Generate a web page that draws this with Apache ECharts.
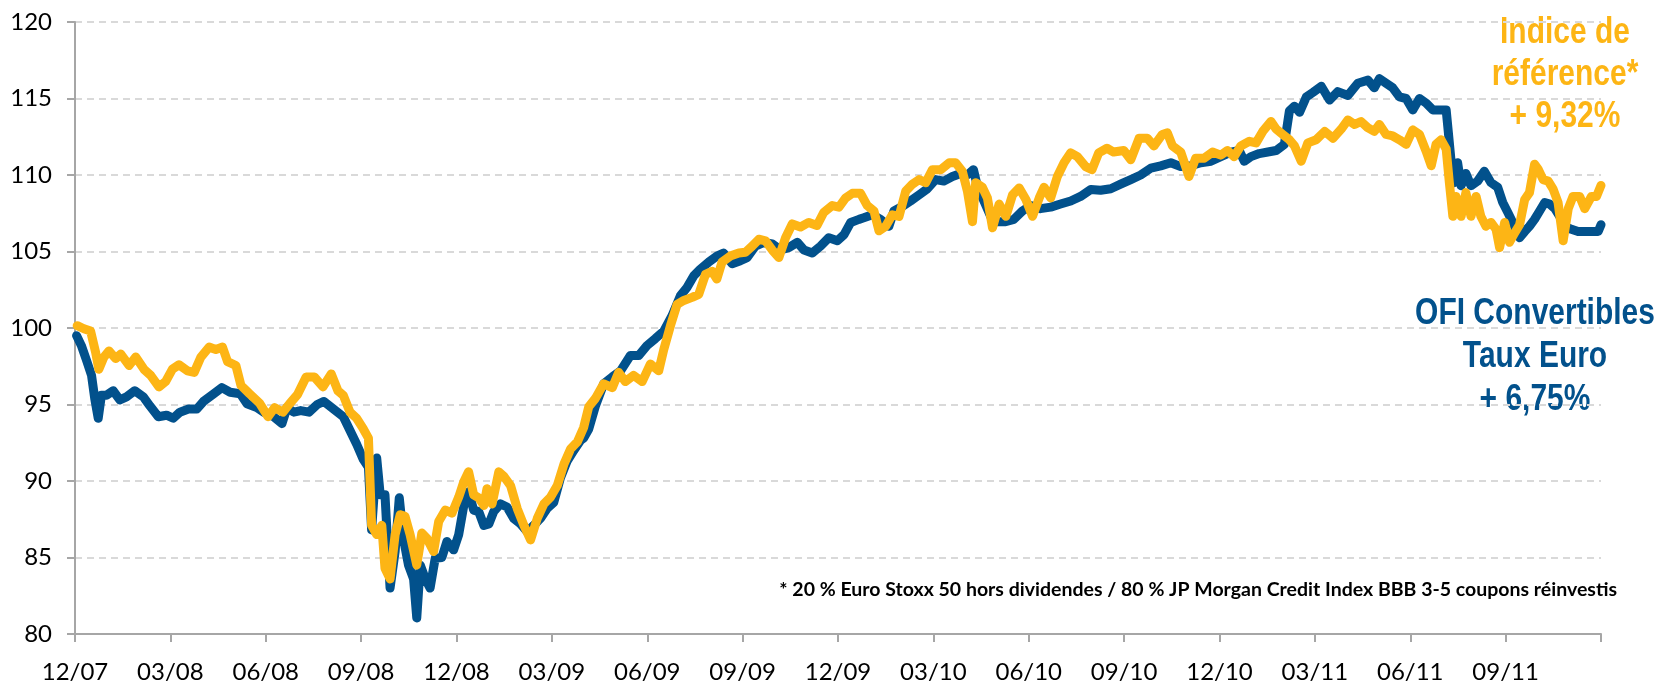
<!DOCTYPE html>
<html>
<head>
<meta charset="utf-8">
<script src="https://cdn.jsdelivr.net/npm/echarts@6/dist/echarts.min.js"></script>
<style>
  html, body { margin: 0; padding: 0; background: #fff; }
  #chart { width: 1662px; height: 684px; }
</style>
</head>
<body>
<div id="chart"></div>
<script>
// x positions are months since end of 12/07
const xTickLabels = ['12/07', '03/08', '06/08', '09/08', '12/08', '03/09', '06/09', '09/09', '12/09',
  '03/10', '06/10', '09/10', '12/10', '03/11', '06/11', '09/11', '']

// OFI Convertibles Taux Euro
const ofiMonths = [0.05, 0.2, 0.36, 0.52, 0.62, 0.73, 0.83, 0.99, 1.2, 1.41, 1.62, 1.88, 2.15, 2.36, 2.62, 2.88,
  3.09, 3.3, 3.57, 3.83, 4.04, 4.36, 4.62, 4.88, 5.2, 5.41, 5.72, 5.93, 6.25, 6.51, 6.67, 6.88, 7.1, 7.36, 7.62,
  7.83, 8.13, 8.44, 8.65, 8.86, 9.07, 9.23, 9.33, 9.49, 9.6, 9.75, 9.91, 10.07, 10.2, 10.33, 10.49, 10.65, 10.75,
  10.86, 11.02, 11.17, 11.33, 11.54, 11.7, 11.91, 12.07, 12.23, 12.38, 12.54, 12.7, 12.86, 13.02, 13.17, 13.38,
  13.59, 13.8, 14.01, 14.22, 14.43, 14.64, 14.85, 15.06, 15.27, 15.48, 15.69, 15.9, 16.0, 16.16, 16.37, 16.63,
  16.9, 17.16, 17.47, 17.73, 17.99, 18.25, 18.52, 18.78, 19.04, 19.25, 19.46, 19.67, 19.93, 20.19, 20.4, 20.67,
  20.93, 21.14, 21.4, 21.67, 21.93, 22.19, 22.45, 22.72, 22.93, 23.19, 23.45, 23.71, 23.98, 24.19, 24.4, 24.66,
  24.81, 25.08, 25.34, 25.6, 25.76, 26.02, 26.28, 26.55, 26.81, 27.07, 27.33, 27.6, 27.86, 28.07, 28.26, 28.38,
  28.59, 28.8, 29.01, 29.27, 29.53, 29.8, 30.06, 30.37, 30.69, 31.0, 31.32, 31.63, 31.95, 32.26, 32.58, 32.89,
  33.21, 33.52, 33.84, 34.15, 34.47, 34.78, 35.1, 35.41, 35.73, 36.04, 36.36, 36.62, 36.78, 36.99, 37.25, 37.52,
  37.78, 38.04, 38.2, 38.36, 38.52, 38.73, 38.94, 39.2, 39.46, 39.72, 40.04, 40.35, 40.67, 40.87, 41.03, 41.24,
  41.45, 41.66, 41.87, 42.08, 42.29, 42.5, 42.71, 42.92, 43.13, 43.2, 43.28, 43.39, 43.49, 43.6, 43.75, 43.91,
  44.12, 44.33, 44.54, 44.75, 44.91, 45.07, 45.28, 45.44, 45.6, 45.75, 45.91, 46.07, 46.23, 46.39, 46.55, 46.7,
  46.86, 47.07, 47.28, 47.49, 47.7, 47.91, 48.0]
const ofiValues = [99.5, 98.85, 97.9, 96.9, 95.4, 94.1, 95.6, 95.6, 95.9, 95.3, 95.5, 95.9, 95.5, 94.9, 94.2, 94.3,
  94.1, 94.5, 94.7, 94.7, 95.2, 95.7, 96.1, 95.8, 95.7, 95.05, 94.8, 94.5, 94.2, 93.75, 94.8, 94.5, 94.6, 94.5, 95.0,
  95.2, 94.7, 94.2, 93.3, 92.4, 91.4, 90.9, 86.8, 91.5, 89.1, 89.1, 83.0, 85.4, 88.9, 86.25, 84.5, 83.6, 81.05,
  84.5, 83.6, 83.0, 84.95, 85.0, 86.05, 85.5, 86.5, 88.4, 89.3, 88.1, 88.0, 87.1, 87.2, 88.0, 88.5,
  88.3, 87.55, 87.2, 86.7, 87.1, 87.55, 88.2, 88.6, 90.2, 91.3, 92.0, 92.65, 92.8, 93.4, 94.9, 96.35,
  96.8, 97.2, 98.2, 98.2, 98.85, 99.3, 99.8, 100.8, 102.1, 102.65, 103.4, 103.85, 104.3, 104.7, 104.9, 104.2,
  104.4, 104.6, 105.35, 105.6, 105.5, 105.1, 105.25, 105.6, 105.1, 104.9, 105.35, 105.9, 105.7, 106.1, 106.9, 107.1,
  107.2, 107.4, 107.1, 106.65, 107.65, 107.95, 108.3, 108.7, 109.1, 109.7, 109.6, 109.9, 110.1, 110.0, 110.35, 109.3,
  108.3, 107.3, 106.95, 106.95, 107.1, 107.65, 108.0, 107.8, 107.9, 108.1, 108.3, 108.6, 109.05, 109.0, 109.1, 109.4,
  109.7, 110.0, 110.45, 110.6, 110.8, 110.55, 110.6, 110.8, 110.9, 111.2, 111.5, 111.6, 110.9, 111.2, 111.4, 111.5,
  111.6, 112.0, 114.2, 114.5, 114.1, 115.1, 115.4, 115.8, 114.9, 115.45, 115.2, 116.0, 116.2, 115.7, 116.3, 116.0,
  115.7, 115.1, 115.0, 114.25, 115.0, 114.7, 114.25, 114.25, 114.25, 112.75, 111.0, 109.5, 110.8, 109.3, 110.1, 109.3,
  109.6, 110.25, 109.5, 109.2, 108.2, 107.55, 106.65, 105.9, 106.3, 106.65, 107.1, 107.65, 108.2, 108.1, 107.8, 107.3,
  106.65, 106.45, 106.3, 106.3, 106.3, 106.3, 106.75]

// Indice de référence
const refMonths = [0.07, 0.28, 0.49, 0.65, 0.75, 0.91, 1.07, 1.28, 1.44, 1.7, 1.91, 2.17, 2.38, 2.64, 2.85, 3.06,
  3.27, 3.54, 3.75, 3.96, 4.22, 4.43, 4.64, 4.8, 5.06, 5.22, 5.49, 5.8, 6.07, 6.28, 6.54, 6.75, 7.0, 7.27, 7.53,
  7.8, 8.06, 8.27, 8.44, 8.65, 8.86, 9.07, 9.23, 9.33, 9.49, 9.65, 9.75, 9.91, 10.07, 10.23, 10.38, 10.54, 10.75,
  10.91, 11.07, 11.28, 11.44, 11.65, 11.86, 12.07, 12.23, 12.38, 12.54, 12.7, 12.86, 12.96, 13.12, 13.33, 13.49,
  13.7, 13.91, 14.12, 14.33, 14.54, 14.75, 14.96, 15.17, 15.38, 15.59, 15.8, 16.0, 16.16, 16.37, 16.63, 16.9,
  17.1, 17.31, 17.57, 17.84, 18.1, 18.36, 18.52, 18.73, 18.94, 19.15, 19.41, 19.62, 19.83, 20.04, 20.19, 20.35,
  20.61, 20.88, 21.09, 21.3, 21.51, 21.72, 21.93, 22.14, 22.35, 22.56, 22.82, 23.08, 23.34, 23.55, 23.82, 24.03,
  24.24, 24.45, 24.71, 24.92, 25.13, 25.29, 25.5, 25.71, 25.92, 26.13, 26.34, 26.55, 26.76, 26.97, 27.23, 27.5,
  27.7, 27.91, 28.07, 28.23, 28.33, 28.54, 28.7, 28.86, 29.07, 29.28, 29.49, 29.7, 29.91, 30.12, 30.33, 30.48,
  30.69, 30.9, 31.11, 31.32, 31.53, 31.79, 31.99, 32.2, 32.46, 32.67, 32.99, 33.21, 33.47, 33.73, 33.94, 34.2,
  34.36, 34.52, 34.78, 35.04, 35.25, 35.52, 35.78, 36.04, 36.25, 36.46, 36.67, 36.94, 37.15, 37.36, 37.62, 37.78,
  37.99, 38.2, 38.36, 38.57, 38.78, 39.04, 39.31, 39.57, 39.83, 40.04, 40.25, 40.45, 40.66, 40.87, 41.03, 41.24,
  41.45, 41.66, 41.87, 42.08, 42.29, 42.5, 42.66, 42.81, 42.97, 43.13, 43.23, 43.34, 43.44, 43.6, 43.75, 43.91,
  44.07, 44.22, 44.38, 44.54, 44.7, 44.81, 44.97, 45.12, 45.28, 45.44, 45.6, 45.75, 45.91, 46.02, 46.18, 46.34,
  46.49, 46.65, 46.81, 46.97, 47.12, 47.33, 47.49, 47.7, 47.86, 48.0]
const refValues = [100.15, 99.95, 99.8, 98.4, 97.3, 98.1, 98.5, 98.0, 98.3, 97.55, 98.1, 97.3, 96.9, 96.15, 96.5, 97.3,
  97.6, 97.2, 97.1, 98.1, 98.75, 98.6, 98.75, 97.8, 97.55, 96.25, 95.7, 95.1, 94.2, 94.8, 94.5, 95.05, 95.65, 96.8, 96.8,
  96.15, 97.0, 95.9, 95.6, 94.5, 94.1, 93.4, 92.8, 87.1, 86.5, 87.1, 84.3, 83.6, 86.5, 87.8, 87.7, 86.5, 84.5,
  86.6, 86.25, 85.4, 87.35, 88.1, 87.9, 88.95, 89.95, 90.6, 89.1, 88.9, 88.4, 89.5, 88.5, 90.6, 90.3,
  89.7, 88.2, 87.1, 86.15, 87.55, 88.5, 88.95, 89.7, 91.1, 92.1, 92.55, 93.5, 94.85, 95.4, 96.35, 96.1,
  97.1, 96.5, 96.9, 96.5, 97.65, 97.2, 98.6, 100.15, 101.55, 101.8, 102.0, 102.2, 103.5, 103.7, 103.2, 104.3,
  104.7, 104.9, 104.95, 105.35, 105.8, 105.7, 105.1, 104.6, 105.9, 106.8, 106.6, 106.9, 106.7, 107.55, 108.0, 107.9,
  108.5, 108.8, 108.8, 108.0, 107.65, 106.35, 106.65, 107.4, 107.3, 108.95, 109.4, 109.7, 109.5, 110.35, 110.35, 110.8,
  110.8, 110.25, 108.95, 106.95, 109.5, 109.2, 108.5, 106.55, 108.1, 107.3, 108.7, 109.15, 108.4, 107.3, 108.5, 109.2,
  108.5, 109.9, 110.8, 111.45, 111.2, 110.55, 110.35, 111.45, 111.75, 111.5, 111.6, 111.0, 112.4, 112.4, 111.9, 112.65,
  112.75, 111.9, 111.5, 109.9, 111.1, 111.1, 111.5, 111.3, 111.6, 111.2, 111.9, 112.2, 112.1, 112.85, 113.5, 113.0,
  112.65, 112.3, 111.9, 110.9, 112.1, 112.3, 112.85, 112.4, 113.0, 113.6, 113.3, 113.5, 113.1, 112.85, 113.3, 112.65,
  112.55, 112.3, 112.0, 112.95, 112.65, 111.55, 110.6, 112.0, 112.3, 111.7, 109.5, 107.3, 108.6, 107.3, 108.85, 107.3,
  108.6, 107.3, 106.65, 106.9, 106.45, 105.25, 106.9, 105.6, 106.2, 106.75, 108.4, 108.85, 110.7, 110.4, 109.7, 109.6,
  109.1, 108.2, 105.7, 107.8, 108.6, 108.6, 107.8, 108.6, 108.6, 109.32]

const BLUE = '#02518C'
const ORANGE = '#FDB515'

const pair = (xs, ys) => xs.map((x, i) => [x, ys[i]])

const chart = echarts.init(document.getElementById('chart'), null, { renderer: 'canvas' })

const lineSeries = (name, data, color) => ({
  name,
  type: 'line',
  data,
  symbol: 'none',
  smooth: false,
  animation: false,
  lineStyle: { color, width: 9, cap: 'round', join: 'round' }
})

// no narrow font installed: squeeze Liberation Sans bold horizontally
const titleFont = 'bold 37px "Liberation Sans", Arial, sans-serif'
const narrow = 0.81

const option = {
  backgroundColor: '#fff',
  animation: false,
  grid: { left: 75, right: 61, top: 22, bottom: 48 },
  xAxis: {
    type: 'value',
    min: 0,
    max: 48,
    interval: 3,
    axisLine: { show: true, lineStyle: { color: '#A6A6A6', width: 2 } },
    axisTick: { show: true, length: 8, lineStyle: { color: '#A6A6A6', width: 2 } },
    splitLine: { show: false },
    axisLabel: {
      margin: 26,
      color: '#000',
      fontFamily: 'Lato',
      fontSize: 24,
      formatter: v => xTickLabels[Math.round(v / 3)] || ''
    }
  },
  yAxis: {
    type: 'value',
    min: 80,
    max: 120,
    interval: 5,
    axisLine: { show: true, lineStyle: { color: '#A6A6A6', width: 2 } },
    axisTick: { show: true, length: 8, lineStyle: { color: '#A6A6A6', width: 2 } },
    splitLine: { show: true, lineStyle: { color: '#D9D9D9', width: 2, type: [7, 5] } },
    axisLabel: { margin: 23, color: '#000', fontFamily: 'Lato', fontSize: 24 }
  },
  series: [
    lineSeries('OFI Convertibles Taux Euro', pair(ofiMonths, ofiValues), BLUE),
    lineSeries('Indice de référence', pair(refMonths, refValues), ORANGE)
  ],
  graphic: [
    {
      type: 'text', silent: true,
      x: 1565, y: 75, scaleX: narrow,
      style: {
        text: 'Indice de\nréférence*\n+ 9,32%', fill: ORANGE, font: titleFont,
        align: 'center', verticalAlign: 'middle', lineHeight: 42
      }
    },
    {
      type: 'text', silent: true,
      x: 1535, y: 357, scaleX: narrow,
      style: {
        text: 'OFI Convertibles\nTaux Euro\n+ 6,75%', fill: BLUE, font: titleFont,
        align: 'center', verticalAlign: 'middle', lineHeight: 43
      }
    },
    {
      type: 'text', silent: true,
      x: 1617, y: 590,
      style: {
        text: '* 20 % Euro Stoxx 50 hors dividendes / 80 % JP Morgan Credit Index BBB 3-5 coupons réinvestis',
        fill: '#000', font: 'bold 19.5px Lato', align: 'right', verticalAlign: 'middle'
      }
    }
  ]
}

chart.setOption(option)
</script>
</body>
</html>
